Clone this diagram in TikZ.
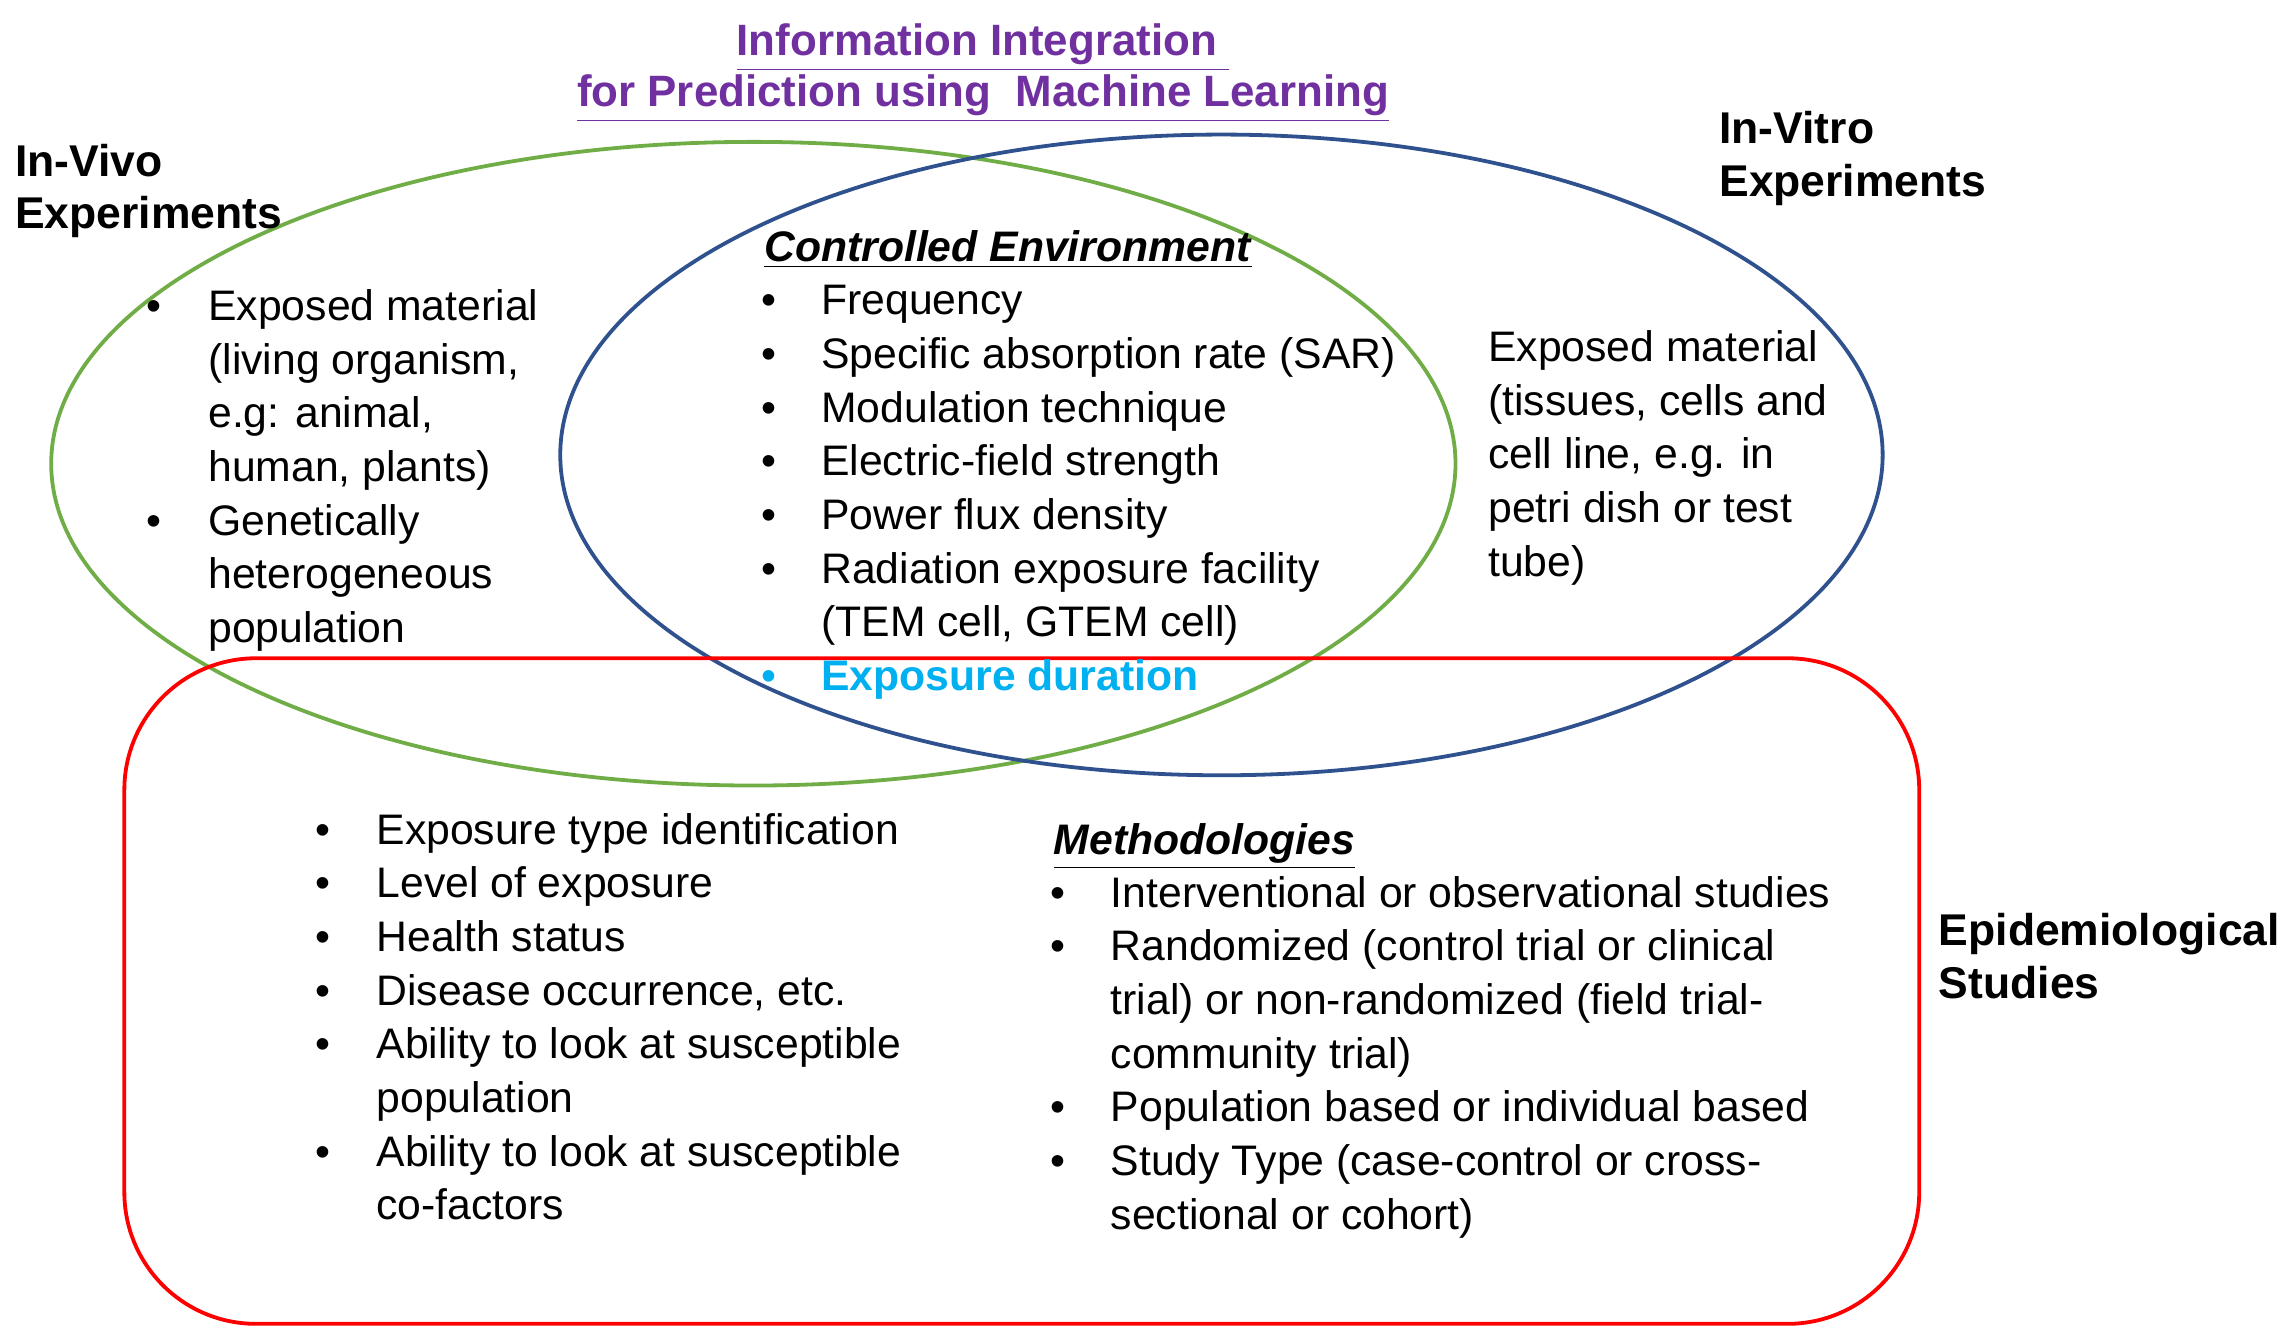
\documentclass[tikz,border=0pt]{standalone}
\usepackage{fontspec}
\setmainfont{Liberation Sans}
\newcommand\myul[1]{\underline{#1}}
\begin{document}
\begin{tikzpicture}[x=0.5pt,y=-0.5pt,
  txt/.style={anchor=north west,inner sep=0pt,align=left,font=\fontsize{14.6}{18.35}\selectfont},
  lbl/.style={txt,font=\fontsize{15.2}{18}\selectfont\bfseries}]
\useasboundingbox (0,0) rectangle (1560,913);
\definecolor{gr}{RGB}{112,173,71}
\definecolor{bl}{RGB}{47,82,143}
\definecolor{pu}{RGB}{112,48,160}
\definecolor{cy}{RGB}{0,176,240}
\draw[gr,line width=1.3pt] (515,317) ellipse [x radius=480, y radius=220];
\draw[bl,line width=1.3pt] (835,311) ellipse [x radius=452, y radius=219];
\draw[red,line width=1.3pt,rounded corners=45pt] (85,450) rectangle (1312,905);
\node[lbl,anchor=north,align=center,text=pu,font=\fontsize{15}{17.5}\selectfont\bfseries] (title) at (672,16) {\myul{Information Integration }\\\myul{for Prediction using\ \ Machine Learning}};
\node[lbl] (vivo) at (10,98) {In-Vivo\\Experiments};
\node[lbl] (vitro) at (1175,76) {In-Vitro\\Experiments};
\node[lbl] (epi) at (1325,624) {Epidemiological\\Studies};
% left
\node[txt] (lb) at (100,193) {\strut•\\ \\ \\ \\ •};
\node[txt] (lt) at (142,193) {\strut Exposed material\\(living organism,\\e.g: animal,\\human, plants)\\Genetically\\heterogeneous\\population};
% center
\node[txt] (ch) at (522,153) {\strut\myul{\textbf{\textit{Controlled Environment}}}};
\node[txt] (cb) at (520,189) {\strut•\\•\\•\\•\\•\\•\\ \\\textcolor{cy}{•}};
\node[txt] (ct) at (561,189) {\strut Frequency\\Specific absorption rate (SAR)\\Modulation technique\\Electric-field strength\\Power flux density\\Radiation exposure facility\\(TEM cell, GTEM cell)\\\textcolor{cy}{\textbf{Exposure duration}}};
% right
\node[txt] (rt) at (1017,221) {\strut Exposed material\\(tissues, cells and\\cell line, e.g. in\\petri dish or test\\tube)};
% bottom left
\node[txt] (bb) at (215,551) {\strut•\\•\\•\\•\\•\\ \\•};
\node[txt] (bt) at (257,551) {\strut Exposure type identification\\Level of exposure\\Health status\\Disease occurrence, etc.\\Ability to look at susceptible\\population\\Ability to look at susceptible\\co-factors};
% methodologies
\node[txt] (mh) at (720,558) {\strut\myul{\textbf{\textit{Methodologies}}}};
\node[txt] (mb) at (718,594) {\strut•\\•\\ \\ \\•\\•};
\node[txt] (mt) at (759,594) {\strut Interventional or observational studies\\Randomized (control trial or clinical\\trial) or non-randomized (field trial-\\community trial)\\Population based or individual based\\Study Type (case-control or cross-\\sectional or cohort)};
\end{tikzpicture}
\end{document}
